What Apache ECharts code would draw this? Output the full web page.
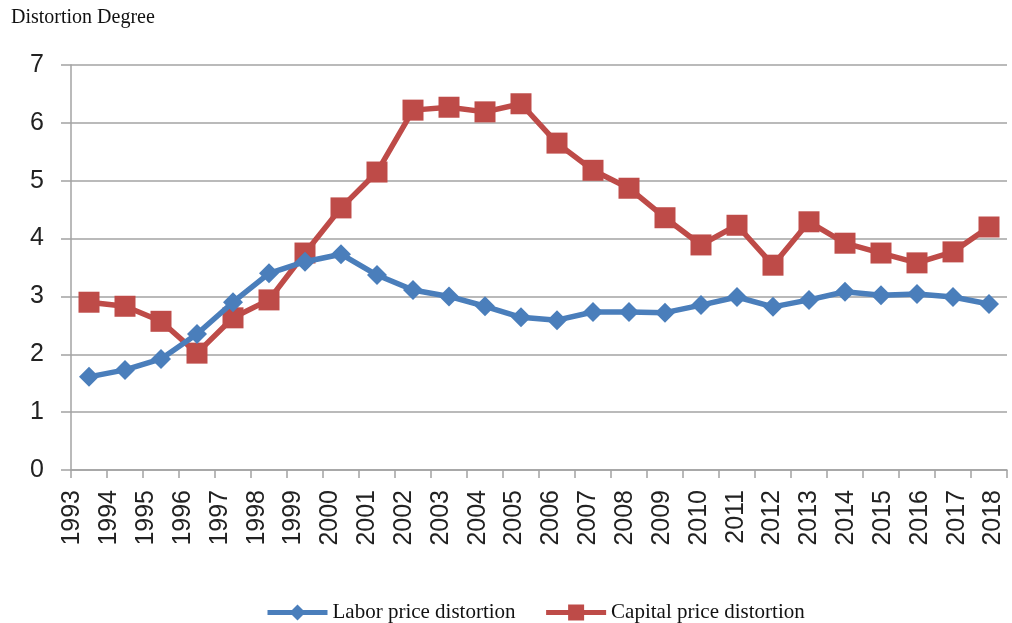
<!DOCTYPE html>
<html><head><meta charset="utf-8">
<script src="https://cdn.jsdelivr.net/npm/echarts@6/dist/echarts.min.js"></script>
<style>html,body{margin:0;padding:0;background:#fff}#c{width:1012px;height:623px}</style>
</head><body><div id="c"></div>
<script>
var years = ['1993','1994','1995','1996','1997','1998','1999','2000','2001','2002','2003','2004','2005','2006','2007','2008','2009','2010','2011','2012','2013','2014','2015','2016','2017','2018'];
var labor = [1.61,1.73,1.92,2.35,2.90,3.40,3.60,3.73,3.37,3.11,3.00,2.83,2.64,2.59,2.73,2.73,2.72,2.85,2.99,2.82,2.94,3.08,3.02,3.04,2.99,2.87];
var capital = [2.90,2.83,2.57,2.02,2.63,2.94,3.75,4.53,5.15,6.22,6.27,6.19,6.33,5.65,5.18,4.87,4.36,3.89,4.23,3.54,4.29,3.92,3.75,3.58,3.77,4.20];
var yTicks = [0,1,2,3,4,5,6,7];

var chart = echarts.init(document.getElementById('c'), null, {renderer:'canvas'});
var gridLine = '#a3a3a3';
chart.setOption({
  animation:false,
  backgroundColor:'#fff',
  title:{text:'Distortion Degree', left:6, top:3,
    textStyle:{fontFamily:'Liberation Serif', fontWeight:'normal', fontSize:20, color:'#111'}},
  grid:[
    {left:71, right:5, top:65, bottom:153, containLabel:false},
    {left:54, right:-6, top:65, bottom:153, containLabel:false}
  ],
  legend:{top:602, left:265, padding:0, itemGap:28, itemWidth:60, itemHeight:20,
    lineStyle:{width:5},
    textStyle:{fontFamily:'Liberation Serif', fontSize:21, color:'#111', padding:[0,0,0,0]},
    data:['Labor price distortion','Capital price distortion']},
  xAxis:[
    {type:'category', gridIndex:0, data:years, boundaryGap:true,
      axisLine:{lineStyle:{color:gridLine, width:1.5}},
      axisTick:{show:true, length:8, lineStyle:{color:gridLine, width:1.5}},
      axisLabel:{show:false},
      splitLine:{show:false}},
    {type:'category', gridIndex:1, data:years, boundaryGap:true,
      axisLine:{show:false}, axisTick:{show:false},
      axisLabel:{rotate:90, interval:0, margin:20, fontFamily:'Liberation Sans', fontSize:25, color:'#222'},
      splitLine:{show:false}}
  ],
  yAxis:[
    {type:'value', gridIndex:0, min:0, max:7, interval:1,
      axisLine:{show:true, lineStyle:{color:gridLine, width:1.5}},
      axisTick:{show:true, length:10, lineStyle:{color:gridLine, width:1.5}},
      axisLabel:{margin:27, fontFamily:'Liberation Sans', fontSize:25, color:'#222',
        formatter:function(v){return yTicks.indexOf(v)>=0?String(v):'';}},
      splitLine:{show:true, lineStyle:{color:gridLine, width:1.5}}},
    {type:'value', gridIndex:1, min:0, max:7, show:false}
  ],
  series:[
    {name:'Labor price distortion', type:'line', xAxisIndex:0, yAxisIndex:0, data:labor, symbol:'diamond', symbolSize:20,
      lineStyle:{color:'#4a7ebb', width:5.5}, itemStyle:{color:'#4a7ebb'}, z:3},
    {name:'Capital price distortion', type:'line', xAxisIndex:0, yAxisIndex:0, data:capital, symbol:'rect', symbolSize:21,
      lineStyle:{color:'#be4b48', width:5.5}, itemStyle:{color:'#be4b48'}, z:2}
  ]
});
</script></body></html>
